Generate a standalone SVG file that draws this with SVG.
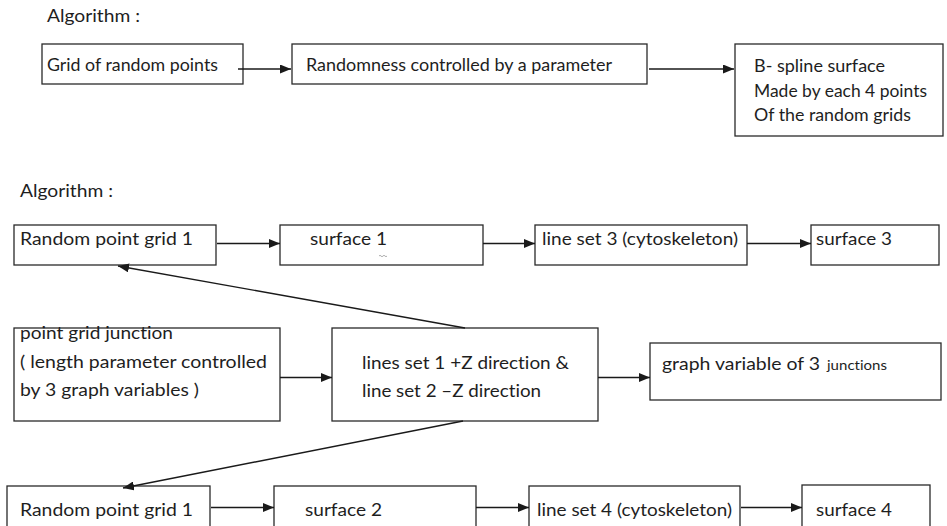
<svg xmlns="http://www.w3.org/2000/svg" width="947" height="526" viewBox="0 0 947 526">
  <style>
    .box { fill: #ffffff; stroke: #2a2a2a; stroke-width: 1.3; }
    .lbl { font-family: Lato, "Open Sans", "Liberation Sans", sans-serif; font-size: 17px; fill: #1e1e1e; font-variant-ligatures: none; font-feature-settings: "liga" 0, "clig" 0; }
    .small { font-size: 13px; }
    .edge { fill: none; stroke: #1a1a1a; stroke-width: 1.4; marker-end: url(#ah); }
  </style>
  <defs>
    <marker id="ah" markerWidth="11" markerHeight="9" refX="11" refY="4.5" orient="auto" markerUnits="userSpaceOnUse">
      <path d="M0,0 L11,4.5 L0,9 z" fill="#1a1a1a"/>
    </marker>
  </defs>
  <rect width="947" height="526" fill="#ffffff"/>

  <!-- first algorithm -->
  <text class="lbl" x="47" y="22" textLength="93" lengthAdjust="spacingAndGlyphs">Algorithm :</text>

  <g id="grid-random-points">
    <rect class="box" x="42" y="44" width="201" height="40"/>
    <text class="lbl" x="47" y="71" textLength="171" lengthAdjust="spacingAndGlyphs">Grid of random points</text>
  </g>
  <g id="randomness-parameter">
    <rect class="box" x="292" y="44" width="355" height="40"/>
    <text class="lbl" x="306" y="71" textLength="306" lengthAdjust="spacingAndGlyphs">Randomness controlled by a parameter</text>
  </g>
  <g id="bspline-surface">
    <rect class="box" x="735" y="44" width="208" height="92"/>
    <text class="lbl" x="754" y="72" textLength="131" lengthAdjust="spacingAndGlyphs">B- spline surface</text>
    <text class="lbl" x="754" y="97" textLength="173" lengthAdjust="spacingAndGlyphs">Made by each 4 points</text>
    <text class="lbl" x="754" y="121" textLength="157" lengthAdjust="spacingAndGlyphs">Of the random grids</text>
  </g>

  <!-- second algorithm -->
  <text class="lbl" x="20" y="197" textLength="93" lengthAdjust="spacingAndGlyphs">Algorithm :</text>

  <g id="random-grid-1-top">
    <rect class="box" x="14" y="225" width="202" height="40"/>
    <text class="lbl" x="20" y="245" textLength="173" lengthAdjust="spacingAndGlyphs">Random point grid 1</text>
  </g>
  <g id="surface-1">
    <rect class="box" x="280" y="225" width="203" height="40"/>
    <text class="lbl" x="310" y="245" textLength="77" lengthAdjust="spacingAndGlyphs">surface 1</text>
    <path d="M379,256 q1,-1.5 2,0 t2,0 t2,0 t2,0" fill="none" stroke="#9a9a9a" stroke-width="0.8"/>
  </g>
  <g id="line-set-3">
    <rect class="box" x="535" y="225" width="212" height="40"/>
    <text class="lbl" x="542" y="245" textLength="196" lengthAdjust="spacingAndGlyphs">line set 3 (cytoskeleton)</text>
  </g>
  <g id="surface-3">
    <rect class="box" x="811" y="225" width="128" height="40"/>
    <text class="lbl" x="816" y="245" textLength="76" lengthAdjust="spacingAndGlyphs">surface 3</text>
  </g>

  <g id="point-grid-junction">
    <rect class="box" x="14" y="328" width="266" height="93"/>
    <text class="lbl" x="20" y="339" textLength="153" lengthAdjust="spacingAndGlyphs">point grid junction</text>
    <text class="lbl" x="20" y="368" textLength="247" lengthAdjust="spacingAndGlyphs">( length parameter controlled</text>
    <text class="lbl" x="20" y="396" textLength="179" lengthAdjust="spacingAndGlyphs">by 3 graph variables )</text>
  </g>
  <g id="line-sets-z">
    <rect class="box" x="332" y="328" width="266" height="93"/>
    <text class="lbl" x="362" y="369" textLength="207" lengthAdjust="spacingAndGlyphs">lines set 1 +Z direction &amp;</text>
    <text class="lbl" x="362" y="397" textLength="179" lengthAdjust="spacingAndGlyphs">line set 2 –Z direction</text>
  </g>
  <g id="graph-variable">
    <rect class="box" x="650" y="343" width="291" height="57"/>
    <text class="lbl" x="662" y="370"><tspan textLength="158" lengthAdjust="spacingAndGlyphs">graph variable of 3</tspan><tspan class="small" x="827" textLength="60" lengthAdjust="spacingAndGlyphs">junctions</tspan></text>
  </g>

  <g id="random-grid-1-bottom">
    <rect class="box" x="7" y="486" width="203" height="50"/>
    <text class="lbl" x="20" y="516" textLength="173" lengthAdjust="spacingAndGlyphs">Random point grid 1</text>
  </g>
  <g id="surface-2">
    <rect class="box" x="274" y="486" width="202" height="50"/>
    <text class="lbl" x="305" y="516" textLength="77" lengthAdjust="spacingAndGlyphs">surface 2</text>
  </g>
  <g id="line-set-4">
    <rect class="box" x="529" y="486" width="211" height="50"/>
    <text class="lbl" x="537" y="516" textLength="195" lengthAdjust="spacingAndGlyphs">line set 4 (cytoskeleton)</text>
  </g>
  <g id="surface-4">
    <rect class="box" x="802" y="485" width="128" height="50"/>
    <text class="lbl" x="816" y="516" textLength="76" lengthAdjust="spacingAndGlyphs">surface 4</text>
  </g>

  <!-- connectors -->
  <g id="connectors">
    <path class="edge" d="M238,69 H291"/>
    <path class="edge" d="M649,69 H734"/>
    <path class="edge" d="M217,243.5 H280"/>
    <path class="edge" d="M483,243.5 H535"/>
    <path class="edge" d="M747,243.5 H811"/>
    <path class="edge" d="M465,328 L118,266"/>
    <path class="edge" d="M280,377.5 H332"/>
    <path class="edge" d="M598,377.5 H650"/>
    <path class="edge" d="M463,421 L123,488"/>
    <path class="edge" d="M211,507.5 H274"/>
    <path class="edge" d="M476,507.5 H529"/>
    <path class="edge" d="M741,507.5 H802"/>
  </g>
</svg>
